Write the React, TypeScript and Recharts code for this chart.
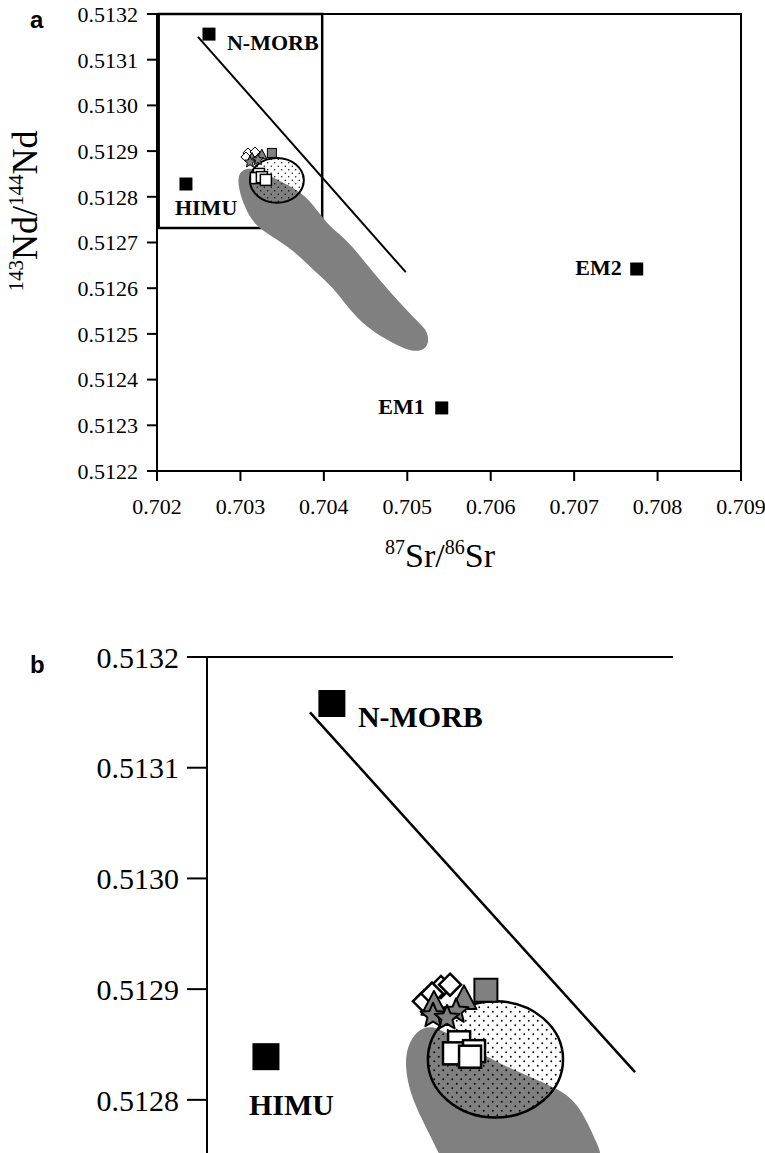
import {
    Curve,
    Label,
    ReferenceArea,
    ReferenceLine,
    Scatter,
    ScatterChart,
    XAxis,
    YAxis,
} from "recharts";

const SERIF = '"Liberation Serif", "Times New Roman", serif';
const SANS = '"Liberation Sans", Arial, sans-serif';
const GREY = "#808080";

// axes
const srTicks = [0.702, 0.703, 0.704, 0.705, 0.706, 0.707, 0.708, 0.709];
const ndTicks = [0.5122, 0.5123, 0.5124, 0.5125, 0.5126, 0.5127, 0.5128, 0.5129, 0.513, 0.5131, 0.5132];
const ndTicksZoom = [0.5128, 0.5129, 0.513, 0.5131, 0.5132];

// ---- panel a ----
const endMembers = [
    { name: "N-MORB", x: 0.702623, y: 0.513156 },
    { name: "HIMU", x: 0.702347, y: 0.512828 },
    { name: "EM1", x: 0.705413, y: 0.512338 },
    { name: "EM2", x: 0.70775, y: 0.512642 },
];
const mixLine = [
    { x: 0.702491, y: 0.51315 },
    { x: 0.704982, y: 0.512635 },
];
const insetBox = { x1: 0.70202, x2: 0.70398, y1: 0.512732, y2: 0.5132 };

// grey field outline
const greyField = [
    { x: 0.70299, y: 0.512852 }, { x: 0.70305, y: 0.512861 }, { x: 0.70315, y: 0.512863 },
    { x: 0.70341, y: 0.512841 }, { x: 0.70374, y: 0.51281 }, { x: 0.70392, y: 0.512771 },
    { x: 0.70407, y: 0.512734 }, { x: 0.70428, y: 0.512705 }, { x: 0.70447, y: 0.512662 },
    { x: 0.70467, y: 0.512618 }, { x: 0.70491, y: 0.512568 }, { x: 0.70511, y: 0.51253 },
    { x: 0.70523, y: 0.512509 }, { x: 0.70526, y: 0.512487 }, { x: 0.70523, y: 0.512469 },
    { x: 0.70511, y: 0.51246 }, { x: 0.70495, y: 0.512469 }, { x: 0.70475, y: 0.512487 },
    { x: 0.70451, y: 0.512515 }, { x: 0.70431, y: 0.512552 }, { x: 0.70411, y: 0.512603 },
    { x: 0.70387, y: 0.51264 }, { x: 0.70363, y: 0.512684 }, { x: 0.70339, y: 0.512712 },
    { x: 0.7032, y: 0.512734 }, { x: 0.70308, y: 0.512765 }, { x: 0.70299, y: 0.512808 },
    { x: 0.70297, y: 0.512837 },
];
// dotted field: left, top, right, bottom
const dotField = [
    { x: 0.703114, y: 0.512836 },
    { x: 0.703437, y: 0.512885 },
    { x: 0.70376, y: 0.512836 },
    { x: 0.703437, y: 0.512787 },
];

const openDiamonds = [
    { x: 0.70309, y: 0.512896 }, { x: 0.703174, y: 0.512898 }, { x: 0.703066, y: 0.512887 },
];
const greyTriangles = [
    { x: 0.703138, y: 0.512885 }, { x: 0.703257, y: 0.512892 },
];
const greyStars = [
    { x: 0.70321, y: 0.512881 }, { x: 0.703114, y: 0.512876 },
];
const greySquares = [{ x: 0.703377, y: 0.512896 }];
const whiteSquares = [
    { x: 0.703222, y: 0.51285 }, { x: 0.703186, y: 0.512841 },
    { x: 0.703257, y: 0.512843 }, { x: 0.703305, y: 0.512837 },
];

// ---- panel b (enlarged box) ----
const endMembersZoom = [
    { name: "N-MORB", x: 0.702536, y: 0.513158 },
    { name: "HIMU", x: 0.702253, y: 0.512839 },
];
const mixLineZoom = [
    { x: 0.702442, y: 0.51315 },
    { x: 0.703837, y: 0.512825 },
];
const greyFieldZoom = [
    { x: 0.702858, y: 0.512848 }, { x: 0.702901, y: 0.512863 }, { x: 0.702957, y: 0.512867 },
    { x: 0.703013, y: 0.512863 }, { x: 0.703172, y: 0.512842 }, { x: 0.703313, y: 0.512827 },
    { x: 0.703524, y: 0.512809 }, { x: 0.703601, y: 0.512794 }, { x: 0.703674, y: 0.512761 },
    { x: 0.70373, y: 0.512732 }, { x: 0.703043, y: 0.512732 }, { x: 0.702987, y: 0.512755 },
    { x: 0.702923, y: 0.512782 }, { x: 0.702871, y: 0.512806 }, { x: 0.70285, y: 0.51283 },
];
const dotFieldZoom = [
    { x: 0.702948, y: 0.512837 },
    { x: 0.703238, y: 0.512889 },
    { x: 0.703528, y: 0.512837 },
    { x: 0.703238, y: 0.512784 },
];
const openDiamondsZoom = [
    { x: 0.703004, y: 0.512902 }, { x: 0.703043, y: 0.512904 },
    { x: 0.702931, y: 0.512889 }, { x: 0.702966, y: 0.512896 },
];
const greyTrianglesZoom = [
    { x: 0.702974, y: 0.512886 }, { x: 0.703103, y: 0.512891 },
];
const greyStarsZoom = [
    { x: 0.703069, y: 0.51288 }, { x: 0.70297, y: 0.512876 }, { x: 0.70303, y: 0.512874 },
];
const greySquaresZoom = [{ x: 0.703197, y: 0.512899 }];
const whiteSquaresZoom = [
    { x: 0.703082, y: 0.512852 }, { x: 0.70306, y: 0.512842 },
    { x: 0.703146, y: 0.512844 }, { x: 0.703129, y: 0.512839 },
];

// label placement for end-member squares [dx, dy, anchor]
const labelPosA: Record<string, [number, number, string]> = {
    "N-MORB": [18, 16, "start"],
    HIMU: [-11, 31, "start"],
    EM1: [-17, 6, "end"],
    EM2: [-15, 6, "end"],
};
const labelPosB: Record<string, [number, number, string]> = {
    "N-MORB": [26, 23, "start"],
    HIMU: [-17, 58, "start"],
};

const none = () => <g />;

function endMemberShape(size: number, fontSize: number, pos: Record<string, [number, number, string]>) {
    return (p: any) => {
        const [dx, dy, anchor] = pos[p.payload.name];
        return (
            <g>
                <rect x={p.cx - size / 2} y={p.cy - size / 2} width={size} height={size} fill="#000" />
                <text
                    x={p.cx + dx}
                    y={p.cy + dy}
                    textAnchor={anchor as any}
                    fontFamily={SERIF}
                    fontWeight="bold"
                    fontSize={fontSize}
                    fill="#000"
                >
                    {p.payload.name}
                </text>
            </g>
        );
    };
}

function squareShape(size: number, fill: string, sw: number) {
    return (p: any) => (
        <rect x={p.cx - size / 2} y={p.cy - size / 2} width={size} height={size} fill={fill} stroke="#000" strokeWidth={sw} />
    );
}

function diamondShape(r: number, sw: number) {
    return (p: any) => (
        <path
            d={`M${p.cx},${p.cy - r}L${p.cx + r},${p.cy}L${p.cx},${p.cy + r}L${p.cx - r},${p.cy}Z`}
            fill="#fff"
            stroke="#000"
            strokeWidth={sw}
        />
    );
}

function triangleShape(s: number, sw: number) {
    return (p: any) => (
        <path
            d={`M${p.cx},${p.cy - s * 0.55}L${p.cx + s / 2},${p.cy + s * 0.4}L${p.cx - s / 2},${p.cy + s * 0.4}Z`}
            fill={GREY}
            stroke="#000"
            strokeWidth={sw}
            strokeLinejoin="round"
        />
    );
}

function starShape(R: number, sw: number) {
    return (p: any) => {
        let d = "";
        for (let i = 0; i < 10; i++) {
            const r = i % 2 === 0 ? R : R * 0.45;
            const a = -Math.PI / 2 + (i * Math.PI) / 5;
            d += `${i === 0 ? "M" : "L"}${p.cx + r * Math.cos(a)},${p.cy + r * Math.sin(a)}`;
        }
        return <path d={d + "Z"} fill={GREY} stroke="#000" strokeWidth={sw} strokeLinejoin="round" />;
    };
}

function fieldLine(p: any) {
    return <Curve points={p.points} type="basisClosed" fill={GREY} stroke="none" />;
}

function dotEllipse(patternId: string, spacing: number, sw: number) {
    return (p: any) => {
        const pts = p.points;
        if (!pts || pts.length < 4) return <g />;
        const [l, t, r, b] = pts;
        const dot = spacing < 8 ? 0.7 : 0.95;
        return (
            <g>
                <defs>
                    <pattern id={patternId} width={spacing} height={spacing} patternUnits="userSpaceOnUse">
                        <circle cx={spacing * 0.25} cy={spacing * 0.25} r={dot} fill="#000" />
                        <circle cx={spacing * 0.75} cy={spacing * 0.75} r={dot} fill="#000" />
                    </pattern>
                </defs>
                <ellipse
                    cx={(l.x + r.x) / 2}
                    cy={(t.y + b.y) / 2}
                    rx={(r.x - l.x) / 2}
                    ry={(b.y - t.y) / 2}
                    fill={`url(#${patternId})`}
                    stroke="#000"
                    strokeWidth={sw}
                />
            </g>
        );
    };
}

function SrTitle(props: any) {
    const vb = props.viewBox ?? { x: 157, y: 471, width: 584, height: 40 };
    return (
        <text x={vb.x + vb.width / 2 - 9} y={vb.y + 96} textAnchor="middle" fontFamily={SERIF} fontSize={34} fill="#000">
            <tspan fontSize={20} dy={-13}>87</tspan>
            <tspan dy={13}>Sr/</tspan>
            <tspan fontSize={20} dy={-13}>86</tspan>
            <tspan dy={13}>Sr</tspan>
        </text>
    );
}

function NdTitle(props: any) {
    const vb = props.viewBox ?? { x: 0, y: 14, width: 157, height: 457 };
    const x = vb.x + 37;
    const y = vb.y + 197;
    return (
        <text x={x} y={y} transform={`rotate(-90, ${x}, ${y})`} textAnchor="middle" fontFamily={SERIF} fontSize={36} fill="#000">
            <tspan fontSize={21} dy={-14}>143</tspan>
            <tspan dy={14}>Nd/</tspan>
            <tspan fontSize={21} dy={-14}>144</tspan>
            <tspan dy={14}>Nd</tspan>
        </text>
    );
}

const axisStroke = { stroke: "#000", strokeWidth: 2 };

export default function App() {
    return (
        <div
            style={{
                position: "fixed",
                left: 0,
                top: 0,
                width: 765,
                height: 1153,
                background: "#fff",
                overflow: "hidden",
            }}
        >
            <div style={{ position: "absolute", left: 30, top: 8, fontFamily: SANS, fontWeight: "bold", fontSize: 24, lineHeight: "24px" }}>
                a
            </div>
            <div style={{ position: "absolute", left: 30, top: 653, fontFamily: SANS, fontWeight: "bold", fontSize: 24, lineHeight: "24px" }}>
                b
            </div>

            <div style={{ position: "absolute", left: 0, top: 0 }}>
                <ScatterChart width={765} height={600} margin={{ top: 14, right: 24, bottom: 89, left: 0 }}>
                    <XAxis
                        type="number"
                        dataKey="x"
                        domain={[0.702, 0.709]}
                        ticks={srTicks}
                        interval={0}
                        allowDataOverflow
                        height={40}
                        tickFormatter={(v: number) => v.toFixed(3)}
                        tick={{ fill: "#000", fontSize: 22, fontFamily: SERIF }}
                        tickSize={10}
                        tickMargin={17}
                        axisLine={axisStroke}
                        tickLine={axisStroke}
                    >
                        <Label content={SrTitle} />
                    </XAxis>
                    <YAxis
                        type="number"
                        dataKey="y"
                        domain={[0.5122, 0.5132]}
                        ticks={ndTicks}
                        interval={0}
                        allowDataOverflow
                        width={157}
                        tickFormatter={(v: number) => v.toFixed(4)}
                        tick={{ fill: "#000", fontSize: 22, fontFamily: SERIF }}
                        tickSize={10}
                        tickMargin={9}
                        axisLine={axisStroke}
                        tickLine={axisStroke}
                    >
                        <Label content={NdTitle} />
                    </YAxis>
                    <ReferenceArea x1={0.702} x2={0.709} y1={0.5122} y2={0.5132} fill="none" stroke="#000" strokeWidth={2} />
                    <Scatter data={greyField} shape={none} line={fieldLine} isAnimationActive={false} />
                    <Scatter data={dotField} shape={none} line={dotEllipse("dotsA", 7, 2)} isAnimationActive={false} />
                    <ReferenceLine segment={mixLine} stroke="#000" strokeWidth={2} />
                    <ReferenceArea {...insetBox} fill="none" stroke="#000" strokeWidth={2.5} />
                    <Scatter data={openDiamonds} shape={diamondShape(5, 1)} isAnimationActive={false} />
                    <Scatter data={greyTriangles} shape={triangleShape(10, 1)} isAnimationActive={false} />
                    <Scatter data={greyStars} shape={starShape(6, 1)} isAnimationActive={false} />
                    <Scatter data={greySquares} shape={squareShape(9, GREY, 1)} isAnimationActive={false} />
                    <Scatter data={whiteSquares} shape={squareShape(11, "#fff", 1.5)} isAnimationActive={false} />
                    <Scatter data={endMembers} shape={endMemberShape(13, 22, labelPosA)} isAnimationActive={false} />
                </ScatterChart>
            </div>

            <div style={{ position: "absolute", left: 0, top: 600 }}>
                <ScatterChart width={765} height={553} margin={{ top: 57, right: 92, bottom: 0, left: 0 }}>
                    <XAxis type="number" dataKey="x" domain={[0.702, 0.704]} allowDataOverflow hide />
                    <YAxis
                        type="number"
                        dataKey="y"
                        domain={[0.512752, 0.5132]}
                        ticks={ndTicksZoom}
                        interval={0}
                        allowDataOverflow
                        width={207}
                        tickFormatter={(v: number) => v.toFixed(4)}
                        tick={{ fill: "#000", fontSize: 30, fontFamily: SERIF }}
                        tickSize={20}
                        tickMargin={8}
                        axisLine={axisStroke}
                        tickLine={axisStroke}
                    />
                    <ReferenceLine y={0.5132} stroke="#000" strokeWidth={2} />
                    <Scatter data={greyFieldZoom} shape={none} line={fieldLine} isAnimationActive={false} />
                    <Scatter data={dotFieldZoom} shape={none} line={dotEllipse("dotsB", 9, 2.5)} isAnimationActive={false} />
                    <ReferenceLine segment={mixLineZoom} stroke="#000" strokeWidth={2.5} />
                    <Scatter data={openDiamondsZoom} shape={diamondShape(11, 2.5)} isAnimationActive={false} />
                    <Scatter data={greyTrianglesZoom} shape={triangleShape(25, 2)} isAnimationActive={false} />
                    <Scatter data={greyStarsZoom} shape={starShape(13, 2)} isAnimationActive={false} />
                    <Scatter data={greySquaresZoom} shape={squareShape(23, GREY, 2)} isAnimationActive={false} />
                    <Scatter data={whiteSquaresZoom} shape={squareShape(22, "#fff", 2.5)} isAnimationActive={false} />
                    <Scatter data={endMembersZoom} shape={endMemberShape(27, 30, labelPosB)} isAnimationActive={false} />
                </ScatterChart>
            </div>
        </div>
    );
}
